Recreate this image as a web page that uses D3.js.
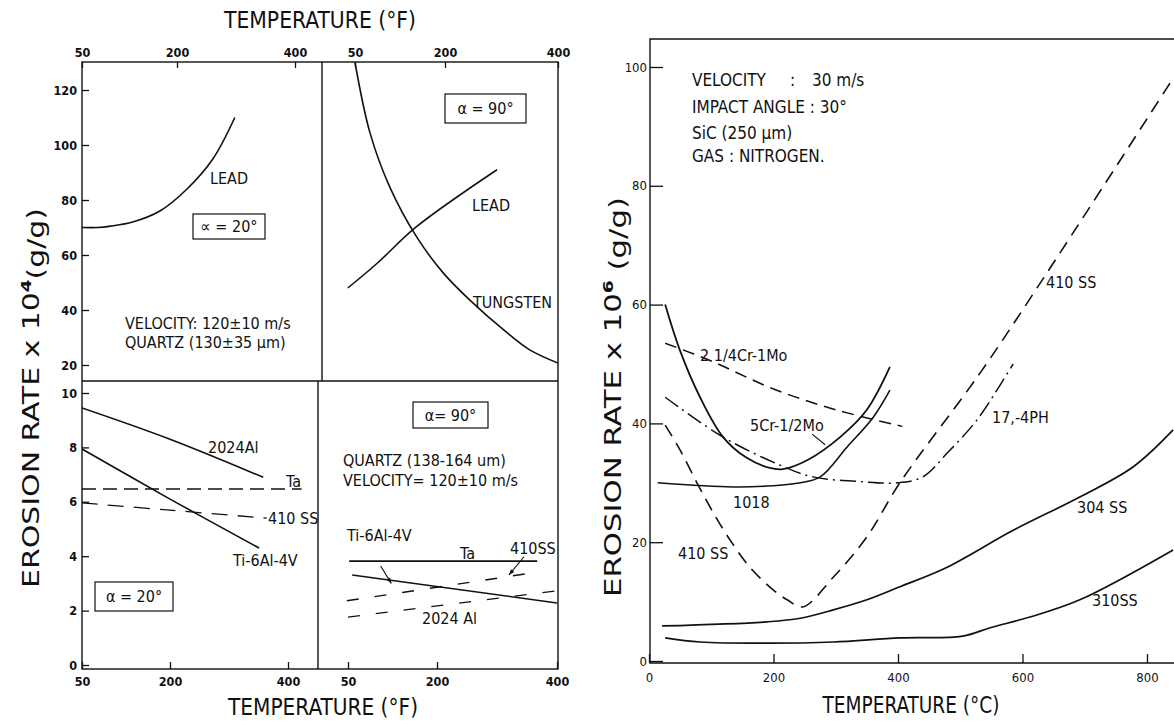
<!DOCTYPE html>
<html>
<head>
<meta charset="utf-8">
<script src="https://cdn.jsdelivr.net/npm/d3@7"></script>
<style>
  body { margin: 0; background: #fff; }
  text { font-family: "DejaVu Sans Condensed", "DejaVu Sans", sans-serif; fill: #111; }
  .tick text { font-weight: bold; font-size: 12.5px; }
  .rticks .tick text { font-weight: normal; font-size: 13px; }
  .note { font-size: 16px; }
  .rnote { font-size: 17px; }
  .title { font-size: 23px; }
</style>
</head>
<body>
<div id="wrapper"></div>
<script>
// ---- tick values ----
const fTicks = [50, 200, 400];
const topRateTicks = [20, 40, 60, 80, 100, 120];
const lowRateTicks = [0, 2, 4, 6, 8, 10];
const cTicks = [0, 200, 400, 600, 800];
const cRateTicks = [0, 20, 40, 60, 80, 100];

// ---- top left: alpha 20 deg (x 10^4) ----
const leadLowTemp = [50, 75, 95, 130, 173, 217, 261, 298];
const leadLowRate = [70, 70, 70.5, 72, 76, 84, 95, 110];

// ---- top right: alpha 90 deg ----
const leadHighTemp = [38, 87, 152, 292];
const leadHighRate = [48, 57, 70.2, 91];
const tungTemp = [50, 75, 108, 153, 197, 244, 306, 350, 400];
const tungRate = [130, 104.4, 84.7, 66.5, 53.5, 43.6, 32.4, 25.5, 20.7];

// ---- bottom left: alpha 20 deg ----
const al20Temp = [50, 200, 358];
const al20Rate = [9.45, 8.3, 6.9];
const ti20Temp = [50, 200, 351];
const ti20Rate = [7.94, 6.1, 4.3];
const ta20Temp = [50, 423];
const ta20Rate = [6.47, 6.47];
const ss20Temp = [50, 195, 364];
const ss20Rate = [5.96, 5.7, 5.4];

// ---- bottom right: alpha 90 deg ----
const ta90Temp = [52, 367];
const ta90Rate = [3.82, 3.82];
const ti90Temp = [57, 400];
const ti90Rate = [3.31, 2.28];
const ss90Temp = [48, 372];
const ss90Rate = [2.36, 3.43];
const al90Temp = [50, 400];
const al90Rate = [1.76, 2.73];

// ---- right chart (x 10^6, deg C) ----
const crmo2Temp = [26, 100, 200, 300, 407];
const crmo2Rate = [53.5, 50.5, 45.8, 42.3, 39.5];
const crmo5Temp = [26, 50, 82, 119, 157, 194, 215, 254, 307, 350, 387];
const crmo5Rate = [60, 52.2, 44.4, 37.7, 34.2, 32.5, 32.3, 33.8, 37.7, 42.3, 49.5];
const s1018Temp = [14, 135, 199, 243, 275, 318, 360, 387];
const s1018Rate = [30, 29.3, 29.5, 30, 31, 36, 41, 45.6];
const ph17Temp = [26, 119, 210, 263, 340, 400, 440, 479, 527, 569, 585];
const ph17Rate = [44.4, 37.7, 33, 31, 30.2, 30, 31, 35, 40.6, 47.3, 50];
const ss410Temp = [26, 50, 77, 103, 130, 162, 199, 222, 247, 296, 350, 403, 532, 639, 842];
const ss410Rate = [39.7, 35.5, 30, 25, 20.4, 15.8, 12, 10.3, 9.1, 14.1, 20.9, 30, 48.5, 65.3, 98.1];
const ss304Temp = [21, 190, 243, 296, 350, 403, 479, 585, 692, 778, 842];
const ss304Rate = [5.9, 6.6, 7.2, 8.6, 10.3, 12.5, 15.8, 22, 27.6, 32.7, 38.9];
const ss310Temp = [26, 82, 190, 296, 403, 504, 548, 612, 692, 842];
const ss310Rate = [3.9, 3.2, 3.0, 3.2, 3.9, 4.2, 5.6, 7.4, 10.3, 18.7];

const zip = (a, b) => a.map((v, i) => [v, b[i]]);

const svg = d3.select("#wrapper").append("svg")
    .attr("width", 1174)
    .attr("height", 722);

// scales
const yTop = d3.scaleLinear().domain([20, 120]).range([365, 90]);
const yLow = d3.scaleLinear().domain([0, 10]).range([665, 393]);
const xTL = d3.scaleLinear().domain(fTicks).range([82, 177, 295]);
const xTR = d3.scaleLinear().domain(fTicks).range([355, 445, 558]);
const xBL = d3.scaleLinear().domain(fTicks).range([82, 170, 288]);
const xBR = d3.scaleLinear().domain(fTicks).range([348, 437, 557]);
const xC = d3.scaleLinear().domain([0, 800]).range([649, 1147]);
const yC = d3.scaleLinear().domain([0, 100]).range([661, 67]);

const clips = [
    ["cTL", 82, 62, 240, 319],
    ["cTR", 322, 62, 236, 319],
    ["cBL", 82, 381, 236, 288],
    ["cBR", 318, 381, 240, 288],
    ["cR", 650, 39, 524, 624],
];
const defs = svg.append("defs");
clips.forEach(c => {
    defs.append("clipPath").attr("id", c[0])
        .append("rect").attr("x", c[1]).attr("y", c[2]).attr("width", c[3]).attr("height", c[4]);
});

function drawLine(x, y, temps, rates, clip, dash, width) {
    const gen = d3.line()
        .x(d => x(d[0]))
        .y(d => y(d[1]))
        .curve(d3.curveCatmullRom.alpha(0.5));
    svg.append("path")
        .attr("d", gen(zip(temps, rates)))
        .attr("clip-path", `url(#${clip})`)
        .attr("fill", "none")
        .attr("stroke", "#111")
        .attr("stroke-width", width || 1.6)
        .attr("stroke-dasharray", dash || null);
}

function note(x, y, str, cls) {
    return svg.append("text")
        .attr("class", cls || "note")
        .attr("x", x)
        .attr("y", y)
        .attr("dy", "0.35em")
        .text(str);
}

function box(x, y, w, h, str) {
    svg.append("rect")
        .attr("x", x).attr("y", y).attr("width", w).attr("height", h)
        .attr("fill", "none").attr("stroke", "#111").attr("stroke-width", 1.2);
    note(x + w / 2, y + h / 2, str).attr("text-anchor", "middle");
}

function axis(gen, tx, ty, cls) {
    const g = svg.append("g")
        .attr("class", cls || null)
        .attr("transform", `translate(${tx},${ty})`)
        .call(gen)
        .attr("font-family", null)
        .attr("font-size", null);
    g.select(".domain").remove();
    g.selectAll("line").attr("stroke", "#111").attr("stroke-width", 1.3);
    return g;
}

function title(x, y, len, rotate) {
    return svg.append("text").attr("class", "title")
        .attr("transform", `translate(${x},${y})` + (rotate ? " rotate(-90)" : ""))
        .attr("text-anchor", "middle").attr("dy", "0.35em")
        .attr("textLength", len).attr("lengthAdjust", "spacingAndGlyphs");
}

// ---- left figure frame ----
svg.append("rect")
    .attr("x", 82).attr("y", 62).attr("width", 476).attr("height", 607)
    .attr("fill", "none").attr("stroke", "#111").attr("stroke-width", 1.4);
svg.append("line").attr("x1", 82).attr("x2", 558).attr("y1", 381).attr("y2", 381)
    .attr("stroke", "#111").attr("stroke-width", 1.4);
svg.append("line").attr("x1", 322).attr("x2", 322).attr("y1", 62).attr("y2", 381)
    .attr("stroke", "#111").attr("stroke-width", 1.4);
svg.append("line").attr("x1", 318).attr("x2", 318).attr("y1", 381).attr("y2", 669)
    .attr("stroke", "#111").attr("stroke-width", 1.4);

axis(d3.axisLeft(yTop).tickValues(topRateTicks).tickSize(-7).tickPadding(5), 82, 0);
axis(d3.axisLeft(yLow).tickValues(lowRateTicks).tickSize(-7).tickPadding(5), 82, 0);
axis(d3.axisTop(xTL).tickValues(fTicks).tickSize(-6).tickPadding(5), 0, 62);
axis(d3.axisTop(xTR).tickValues(fTicks).tickSize(-6).tickPadding(5), 0, 62);
axis(d3.axisBottom(xBL).tickValues(fTicks).tickSize(-7).tickPadding(8), 0, 669);
axis(d3.axisBottom(xBR).tickValues(fTicks).tickSize(-7).tickPadding(8), 0, 669);

// top left
drawLine(xTL, yTop, leadLowTemp, leadLowRate, "cTL");
note(210, 178, "LEAD");
box(193, 214, 72, 25, "∝ = 20°");
note(125, 323, "VELOCITY: 120±10 m/s");
note(125, 342, "QUARTZ (130±35 µm)");

// top right
drawLine(xTR, yTop, leadHighTemp, leadHighRate, "cTR");
drawLine(xTR, yTop, tungTemp, tungRate, "cTR");
box(445, 94, 81, 29, "α = 90°");
note(472, 205, "LEAD");
note(473, 302, "TUNGSTEN");

// bottom left
drawLine(xBL, yLow, al20Temp, al20Rate, "cBL");
drawLine(xBL, yLow, ti20Temp, ti20Rate, "cBL");
drawLine(xBL, yLow, ta20Temp, ta20Rate, "cBL", "14,7", 1.5);
drawLine(xBL, yLow, ss20Temp, ss20Rate, "cBL", "16,10", 1.3);
note(208, 447, "2024Al");
note(286, 481, "Ta");
note(268, 518, "410 SS");
note(233, 560, "Ti-6Al-4V");
box(95, 582, 78, 29, "α = 20°");

// bottom right
drawLine(xBR, yLow, ta90Temp, ta90Rate, "cBR");
drawLine(xBR, yLow, ti90Temp, ti90Rate, "cBR");
drawLine(xBR, yLow, ss90Temp, ss90Rate, "cBR", "12,16", 1.4);
drawLine(xBR, yLow, al90Temp, al90Rate, "cBR", "12,16", 1.4);
box(413, 402, 75, 26, "α= 90°");
note(343, 460, "QUARTZ (138-164 um)");
note(343, 480, "VELOCITY= 120±10 m/s");
note(347, 535, "Ti-6Al-4V");
note(460, 553, "Ta");
note(510, 548, "410SS");
note(422, 618, "2024 Al");

// annotation arrows (data units)
const arrows = [
    [xBR, yLow, [105, 3.64], [123, 3.0]],
    [xBR, yLow, [345, 3.98], [320, 3.31]],
];
arrows.forEach(a => {
    const [x, y, p0, p1] = a;
    const x0 = x(p0[0]), y0 = y(p0[1]), x1 = x(p1[0]), y1 = y(p1[1]);
    svg.append("line").attr("x1", x0).attr("y1", y0).attr("x2", x1).attr("y2", y1)
        .attr("stroke", "#111").attr("stroke-width", 1.1);
    const ang = Math.atan2(y1 - y0, x1 - x0);
    const s = 6;
    const pts = [
        [x1, y1],
        [x1 - s * Math.cos(ang - 0.35), y1 - s * Math.sin(ang - 0.35)],
        [x1 - s * Math.cos(ang + 0.35), y1 - s * Math.sin(ang + 0.35)],
    ];
    svg.append("path").attr("d", "M" + pts.join("L") + "Z").attr("fill", "#111");
});

// titles left figure
title(320, 20, 192).text("TEMPERATURE (°F)");
title(323, 707, 190).text("TEMPERATURE (°F)");
const ylabL = title(31, 398, 380, true).style("font-size", "23px");
ylabL.append("tspan").text("EROSION RATE x 10");
ylabL.append("tspan").attr("dy", "-0.55em").attr("font-size", "14px").attr("font-weight", "bold").text("4");
ylabL.append("tspan").attr("dy", "0.55em").text("(g/g)");

// ---- right figure ----
svg.append("path")
    .attr("d", "M1174,39H650V663H1174")
    .attr("fill", "none").attr("stroke", "#111").attr("stroke-width", 1.4);
axis(d3.axisLeft(yC).tickValues(cRateTicks).tickSize(-13).tickPadding(3), 650, 0, "rticks");
axis(d3.axisBottom(xC).tickValues(cTicks).tickSize(-9).tickPadding(10), 0, 663, "rticks");

drawLine(xC, yC, crmo2Temp, crmo2Rate, "cR", "12,7", 1.5);
drawLine(xC, yC, crmo5Temp, crmo5Rate, "cR", null, 1.8);
drawLine(xC, yC, s1018Temp, s1018Rate, "cR", null, 1.6);
drawLine(xC, yC, ph17Temp, ph17Rate, "cR", "16,5,2,5", 1.5);
drawLine(xC, yC, ss410Temp, ss410Rate, "cR", "13,8", 1.6);
drawLine(xC, yC, ss304Temp, ss304Rate, "cR", null, 1.7);
drawLine(xC, yC, ss310Temp, ss310Rate, "cR", null, 1.7);

note(692, 80, "VELOCITY", "rnote");
note(790, 80, ":", "rnote");
note(812, 80, "30 m/s", "rnote");
note(692, 107, "IMPACT ANGLE : 30°", "rnote");
note(692, 133, "SiC (250 µm)", "rnote");
note(692, 156, "GAS : NITROGEN.", "rnote");

note(700, 355, "2 1/4Cr-1Mo");
note(750, 425, "5Cr-1/2Mo");
note(733, 502, "1018");
note(678, 553, "410 SS");
note(1046, 282, "410 SS");
note(992, 417, "17,-4PH");
note(1077, 507, "304 SS");
note(1092, 600, "310SS");
// 5Cr leader
svg.append("line")
    .attr("x1", xC(262)).attr("y1", yC(38.2))
    .attr("x2", xC(283)).attr("y2", yC(36.4))
    .attr("stroke", "#111").attr("stroke-width", 1.1);

title(911, 705, 177).text("TEMPERATURE (°C)");
const ylabR = title(613, 397, 400, true).style("font-size", "23px");
ylabR.append("tspan").text("EROSION RATE x 10");
ylabR.append("tspan").attr("dy", "-0.55em").attr("font-size", "14px").attr("font-weight", "bold").text("6");
ylabR.append("tspan").attr("dy", "0.55em").text(" (g/g)");
</script>
</body>
</html>
